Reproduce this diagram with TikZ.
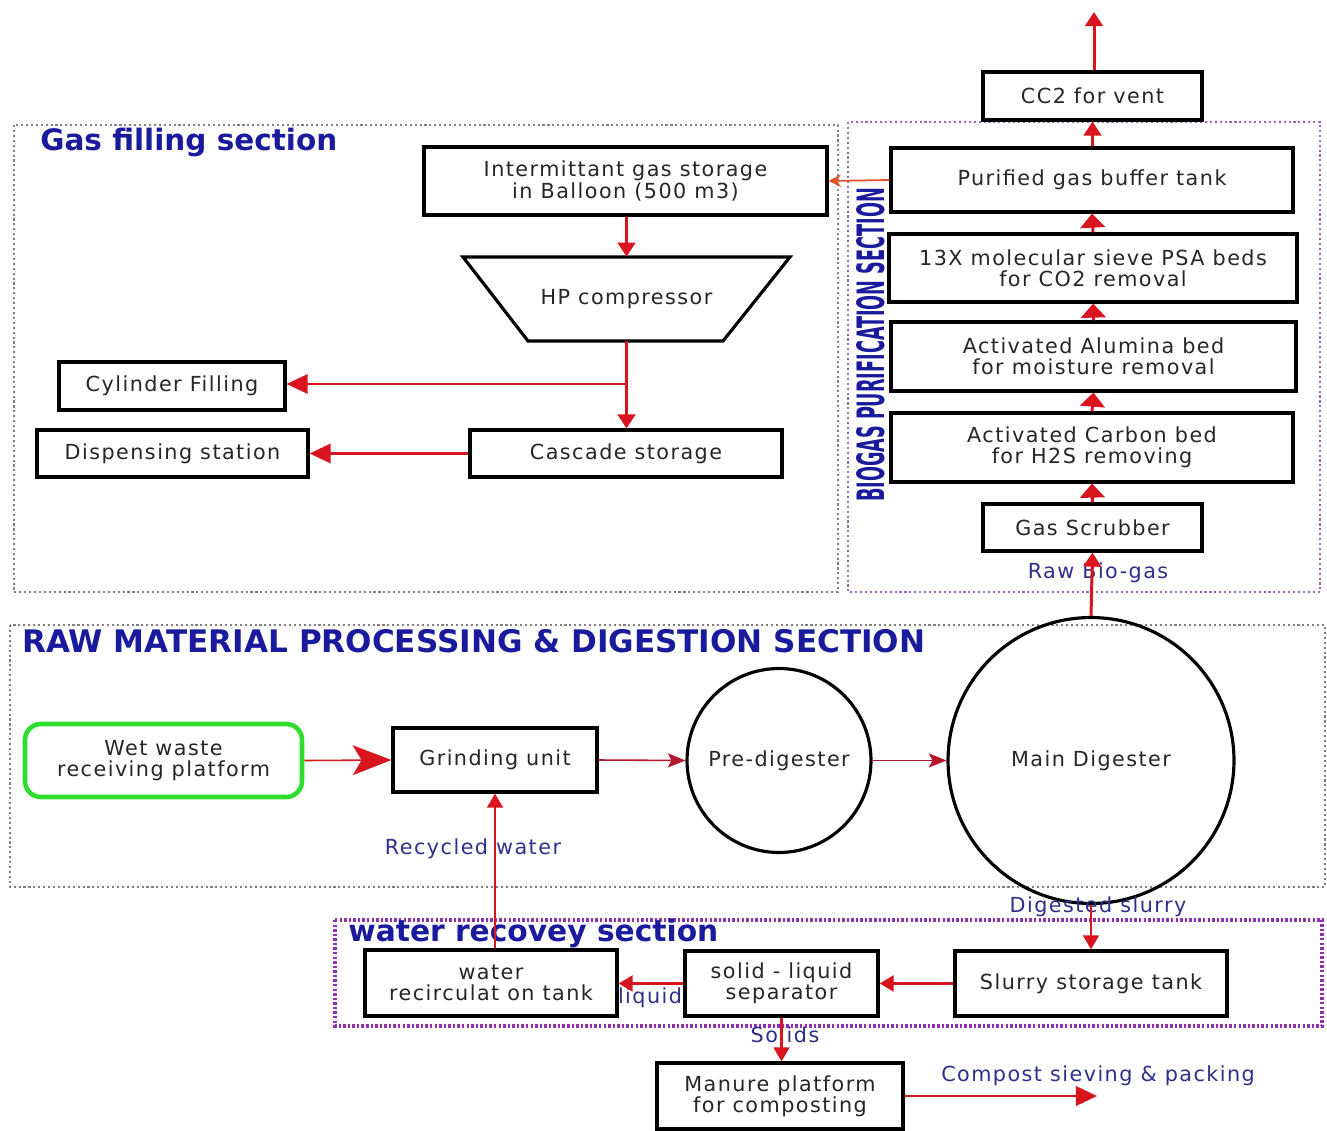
\documentclass[tikz,border=0pt]{standalone}
\usepackage{fontspec}
\usepackage{graphicx}
\setmainfont{DejaVu Sans}
\newfontfamily\spfam[LetterSpace=7]{DejaVu Sans}
\usetikzlibrary{arrows.meta,fit}
\definecolor{arr}{HTML}{D8141E}
\definecolor{arrd}{HTML}{B5182E}
\definecolor{arro}{HTML}{E0502A}
\definecolor{lbl}{HTML}{30308A}
\definecolor{ttl}{HTML}{1A1A9C}
\definecolor{sectg}{HTML}{808080}
\definecolor{sectp}{HTML}{9A6AAE}
\definecolor{sectw}{HTML}{9030B0}
\definecolor{grn}{HTML}{2EDD2E}
\newcommand{\bxf}{\spfam\fontsize{11.8}{12}\selectfont}
\begin{document}
\begin{tikzpicture}[x=0.02cm,y=-0.02cm,
  box/.style={draw, line width=1.8pt, inner sep=0pt},
  txt/.style={align=center, font=\bxf, text=black!85, inner sep=0pt},
  lbl/.style={font=\bxf, text=lbl, inner sep=0pt},
  ttlst/.style={font=\bfseries, text=ttl, inner sep=0pt, anchor=west},
  sect/.style={draw=sectg, line width=1.1pt, dash pattern=on 1.2pt off 1.6pt},
  sectpp/.style={draw=sectp, line width=1.1pt, dash pattern=on 1.2pt off 1.6pt},
  sectww/.style={draw=sectw, line width=2pt, dash pattern=on 1.4pt off 1.2pt},
  ar/.style={draw=arr, line width=1.7pt, -{Triangle[width=10pt,length=8pt]}},
  arb/.style={draw=arr, line width=1.7pt, -{Triangle[width=14pt,length=8pt]}},
  art/.style={draw=arrd, line width=0.9pt, -{Stealth[width=8pt,length=10pt,inset=2pt]}},
  artb/.style={draw=arrd, line width=0.9pt, -{Stealth[width=17pt,length=22pt,inset=5pt]}, arr},
  arm/.style={draw=arrd, line width=1.3pt, -{Triangle[width=9pt,length=8pt]}, arr},
]
\useasboundingbox (0,0) rectangle (1327,1131);
\fill[white] (0,0) rectangle (1327,1131);

% section frames
\draw[sect] (14,125) rectangle (838,592);
\draw[sectpp] (848,122) rectangle (1320,592);
\draw[sect] (10,625) rectangle (1325,887);
\draw[sectww] (335,920) rectangle (1322,1026);

% titles
\node[ttlst] (tgas) at (40,142) {\resizebox{5.94cm}{!}{Gas filling section}};
\node[ttlst] (traw) at (22,641) {\resizebox{18.06cm}{!}{RAW MATERIAL PROCESSING \& DIGESTION SECTION}};
\node[ttlst] (twat) at (348,933) {\resizebox{7.4cm}{!}{water recovey section}};
\node[inner sep=0pt, rotate=90, text=ttl] (tbio) at (871,345) {\resizebox{6.28cm}{0.56cm}{\bfseries BIOGAS PURIFICATION SECTION}};

% purification
\node[box, fit={(983,72)(1202,120)}] (vent) {};
\node[txt] (vent-t) at (vent.center) {CC2 for vent};
\node[box, fit={(891,148)(1293,212)}] (buf) {};
\node[txt] (buf-t) at (buf.center) {Purified gas buffer tank};
\node[box, fit={(889,234)(1297,302)}] (sieve) {};
\node[txt] (sieve-t) at (sieve.center) {13X molecular sieve PSA beds\\for CO2 removal};
\node[box, fit={(891,322)(1296,391)}] (alum) {};
\node[txt] (alum-t) at (alum.center) {Activated Alumina bed\\for moisture removal};
\node[box, fit={(891,413)(1293,482)}] (carb) {};
\node[txt] (carb-t) at (carb.center) {Activated Carbon bed\\for H2S removing};
\node[box, fit={(983,504)(1202,551)}] (scrub) {};
\node[txt] (scrub-t) at (scrub.center) {Gas Scrubber};
\coordinate (ventout) at (1094,12);

% gas filling
\node[box, fit={(424,147)(827,215)}] (balloon) {};
\node[txt] (balloon-t) at (balloon.center) {Intermittant gas storage\\in Balloon (500 m3)};
\node[txt, minimum width=3.9cm, minimum height=1.68cm] (hp) at (626.5,299) {HP compressor};
\draw[line width=1.8pt] (463,257) -- (790,257) -- (723,341) -- (528,341) -- cycle;
\node[box, fit={(59,362)(285,410)}] (cyl) {};
\node[txt] (cyl-t) at (cyl.center) {Cylinder Filling};
\node[box, fit={(470,430)(782,477)}] (casc) {};
\node[txt] (casc-t) at (casc.center) {Cascade storage};
\node[box, fit={(37,430)(308,477)}] (disp) {};
\node[txt] (disp-t) at (disp.center) {Dispensing station};
\coordinate (br) at (626.5,384);

% raw material
\node[draw=grn, line width=2.6pt, rounded corners=9pt, inner sep=0pt, fit={(25,724)(302,797)}] (wet) {};
\node[txt] (wet-t) at (wet.center) {Wet waste\\receiving platform};
\node[box, fit={(393,728)(597,792)}] (grind) {};
\node[txt] (grind-t) at (grind.center) {Grinding unit};
\node[circle, draw, line width=1.8pt, minimum size=3.68cm, inner sep=0pt, font=\bxf, text=black!85] (pre) at (779,760.5) {Pre-digester};
\node[circle, draw, line width=1.8pt, minimum size=5.72cm, inner sep=0pt, font=\bxf, text=black!85] (main) at (1091,760.5) {Main Digester};

% water recovery
\node[box, fit={(955,951)(1227,1016)}] (slurry) {};
\node[txt] (slurry-t) at (slurry.center) {Slurry storage tank};
\node[box, fit={(685,951)(878,1016)}] (sep) {};
\node[txt] (sep-t) at (sep.center) {solid - liquid\\separator};
\node[box, fit={(365,950)(617,1016)}] (wtank) {};
\node[txt] (wtank-t) at (wtank.center) {water\\recirculat on tank};
\node[box, fit={(657,1063)(903,1129)}] (manure) {};
\node[txt] (manure-t) at (manure.center) {Manure platform\\for composting};
\coordinate (compost) at (1097,1096);

% labels
\node[lbl] (lraw) at (1098,573) {Raw Bio-gas};
\node[lbl] (lrec) at (473,849) {Recycled water};
\node[lbl] (ldig) at (1098,907) {Digested slurry};
\node[lbl] (lliq) at (650,998) {liquid};
\node[lbl] (lsol) at (785,1035) {Solids};
\node[lbl] (lcomp) at (1098,1076) {Compost sieving \& packing};

% connectors
\draw[ar] (main.north) -- (scrub.south);
\draw[arb] (scrub.north) -- (carb.south);
\draw[arb] (carb.north) -- (alum.south);
\draw[arb] (alum.north) -- (sieve.south);
\draw[arb] (sieve.north) -- (buf.south);
\draw[ar] (buf.north -| vent.south) -- (vent.south);
\draw[ar] (vent.north -| ventout) -- (ventout);
\draw[draw=arro, line width=1pt, -{Stealth[width=7pt,length=7pt]}] (buf.west) -- (balloon.east);
\draw[ar] (balloon.south -| hp.north) -- (hp.north);
\draw[ar] (hp.south) -- (casc.north -| hp.south);
\draw[draw=arrd, line width=1.3pt, -{Triangle[width=11pt,length=12pt]}, arr] (br) -- (cyl.east |- br);
\draw[draw=arrd, line width=1.3pt, -{Triangle[width=11pt,length=12pt]}, arr] (casc.west) -- (disp.east);
\draw[artb] (wet.east) -- (grind.west);
\draw[art] (grind.east) -- (pre.west);
\draw[art] (pre.east) -- (main.west);
\draw[arm] (wtank.north -| grind.south) -- (grind.south);
\draw[arm] (main.south) -- (slurry.north -| main.south);
\draw[arm, line width=1.6pt] (slurry.west |- sep.east) -- (sep.east);
\draw[arm, line width=1.6pt] (sep.west) -- (wtank.east |- sep.west);
\draw[arm] (sep.south) -- (manure.north -| sep.south);
\draw[draw=arrd, line width=1.6pt, -{Triangle[width=11pt,length=12pt]}, arr] (manure.east) -- (compost);
\end{tikzpicture}
\end{document}
